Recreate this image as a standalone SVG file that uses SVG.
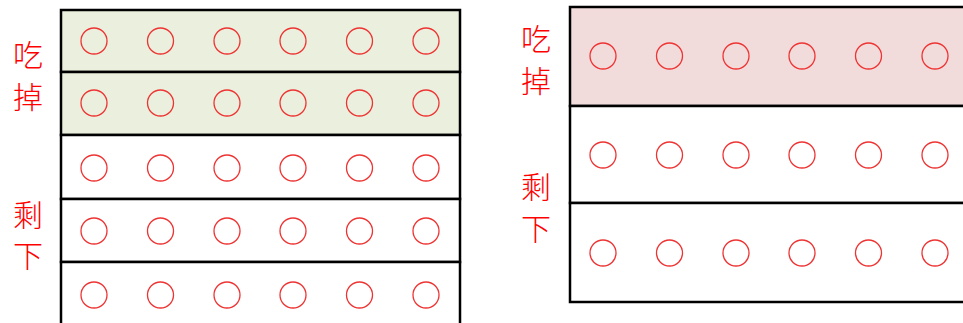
<svg xmlns="http://www.w3.org/2000/svg" width="963" height="323" viewBox="0 0 963 323">
<style>
.row{stroke:#000;stroke-width:2.5}
.g{fill:#EAF0DD}
.p{fill:#F2DCDB}
.w{fill:#fff}
.c{fill:none;stroke:#EE3333;stroke-width:1.3}
.t{font-family:"Noto Sans CJK SC","Noto Sans CJK JP",sans-serif;font-weight:300;font-size:30px;fill:#FF0000;text-anchor:middle}
</style>
<defs>
<g id="L6">
<circle class="c" cx="94" cy="0" r="13"/><circle class="c" cx="160.5" cy="0" r="13"/><circle class="c" cx="227" cy="0" r="13"/><circle class="c" cx="293" cy="0" r="13"/><circle class="c" cx="359.5" cy="0" r="13"/><circle class="c" cx="426" cy="0" r="13"/>
</g>
<g id="R6">
<circle class="c" cx="603" cy="0" r="13"/><circle class="c" cx="669.5" cy="0" r="13"/><circle class="c" cx="736" cy="0" r="13"/><circle class="c" cx="802" cy="0" r="13"/><circle class="c" cx="868.5" cy="0" r="13"/><circle class="c" cx="935" cy="0" r="13"/>
</g>
</defs>
<rect width="963" height="323" fill="#fff"/>
<g id="left-box">
<rect class="row g" x="61" y="10" width="399" height="62"/>
<rect class="row g" x="61" y="72" width="399" height="63"/>
<rect class="row w" x="61" y="135" width="399" height="64"/>
<rect class="row w" x="61" y="199" width="399" height="63"/>
<rect class="row w" x="61" y="262" width="399" height="70"/>
<use href="#L6" y="41"/>
<use href="#L6" y="103"/>
<use href="#L6" y="168"/>
<use href="#L6" y="231"/>
<use href="#L6" y="295"/>
</g>
<g id="right-box">
<rect class="row p" x="570" y="7" width="400" height="99"/>
<rect class="row w" x="570" y="106" width="400" height="97"/>
<rect class="row w" x="570" y="203" width="400" height="99"/>
<use href="#R6" y="56"/>
<use href="#R6" y="155"/>
<use href="#R6" y="253"/>
</g>
<g id="labels">
<text class="t" x="28" y="66">吃</text>
<text class="t" x="28" y="108">掉</text>
<text class="t" x="28" y="226">剩</text>
<text class="t" x="28" y="267">下</text>
<text class="t" x="536" y="50">吃</text>
<text class="t" x="536" y="92">掉</text>
<text class="t" x="536" y="198">剩</text>
<text class="t" x="536" y="240">下</text>
</g>
</svg>
